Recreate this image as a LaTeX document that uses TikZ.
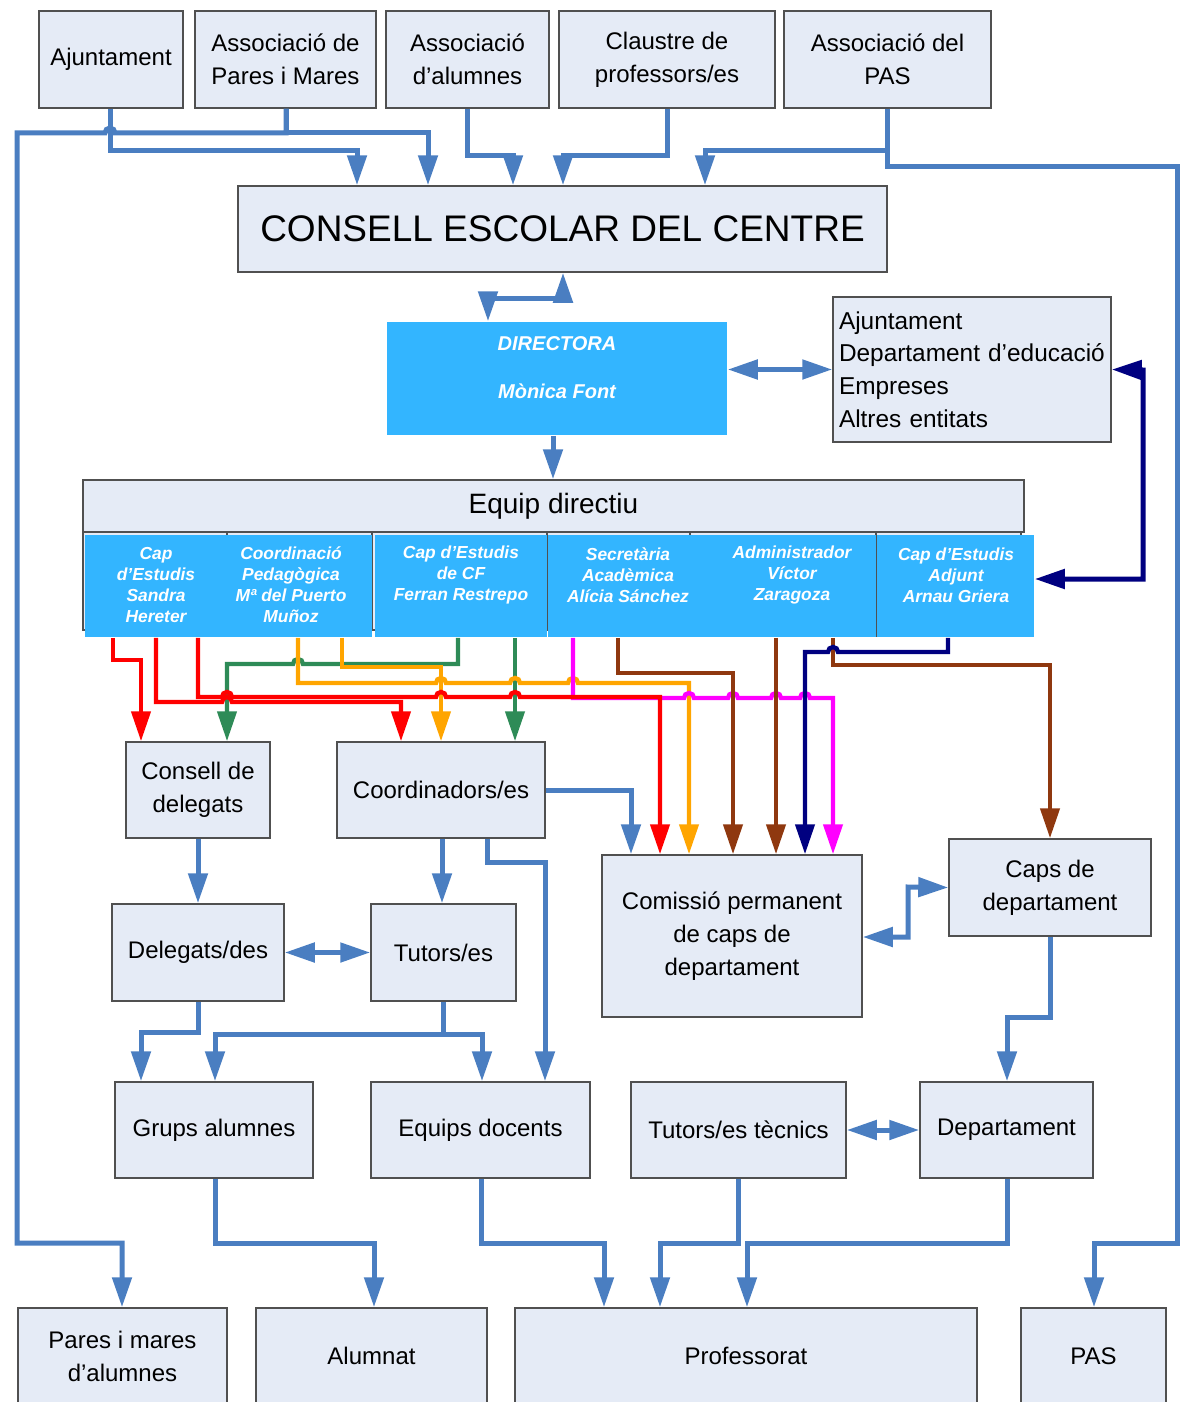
\documentclass[tikz,border=0pt]{standalone}
\usepackage{fontspec}
\setmainfont{Liberation Sans}
\usetikzlibrary{arrows.meta}
\definecolor{lblue}{RGB}{74,126,193}
\definecolor{boxfill}{RGB}{229,235,246}
\definecolor{boxline}{RGB}{80,80,80}
\definecolor{cyanb}{RGB}{51,181,255}
\definecolor{cred}{RGB}{255,0,0}
\definecolor{cgreen}{RGB}{46,139,87}
\definecolor{corange}{RGB}{255,165,0}
\definecolor{cmag}{RGB}{255,0,255}
\definecolor{cbrown}{RGB}{143,56,15}
\definecolor{cnavy}{RGB}{0,0,128}
\newcommand\Bx[7][]{\node[box,#1,minimum width={(#4-#2)*0.5pt},minimum height={(#5-#3)*0.5pt}] (#7) at ({(#2+#4)/2},{(#3+#5)/2}) {#6};}
\begin{document}
\begin{tikzpicture}[x=0.5pt,y=-0.5pt,
  >={Triangle[length=15pt,width=9.5pt]},
  box/.style={draw=boxline,fill=boxfill,line width=0.75pt,inner sep=0pt,align=center,font=\fontsize{12}{16.5}\selectfont},
  bluebox/.style={draw=none,fill=cyanb,text=white},
  btxt/.style={text=white,font=\fontsize{8.7}{10.5}\selectfont\bfseries\itshape,align=center,inner sep=0pt},
  conn/.style={draw=lblue,line width=2.5pt},
  navyc/.style={draw=cnavy,line width=2.5pt},
  cl/.style={line width=2.2pt,->}]
\useasboundingbox (0,0) rectangle (1180,1402);
\clip (0,0) rectangle (1180,1402);
% top row
\Bx{39}{11}{183}{108}{Ajuntament}{ajun}
\Bx{195}{11}{376}{108}{Associació de\\Pares i Mares}{apm}
\Bx{386}{11}{549}{108}{Associació\\d’alumnes}{aal}
\Bx{559}{11}{775}{108}{Claustre de\\professors/es}{cla}
\Bx{784}{11}{991}{108}{Associació del\\PAS}{apas}
\Bx[font=\fontsize{18.5}{22}\selectfont]{238}{186}{887}{272}{CONSELL ESCOLAR DEL CENTRE}{consell}
% directora
\Bx[bluebox]{387}{322}{727}{435}{}{dir}
\node[btxt,font=\fontsize{10}{12}\selectfont\bfseries\itshape] (tdir) at (557,368) {DIRECTORA\\[12pt]Mònica Font};
\Bx[align=left,text width={(1111-833-12)*0.5pt},font=\fontsize{12.2}{16.3}\selectfont]{833}{297}{1111}{442}{Ajuntament\\Departament d’educació\\Empreses\\Altres entitats}{ext}
% equip directiu
\Bx[font=\fontsize{14}{16}\selectfont]{83}{480}{1024}{532}{Equip directiu}{equip}
\Bx{83}{532}{1021}{630}{}{cells}
\foreach \x in {227,372,547,690,876} \draw[boxline,line width=0.75pt] (\x,532) -- (\x,630);
\Bx[bluebox]{85}{535}{372}{637}{}{b1}
\Bx[bluebox]{375}{535}{547}{637}{}{b2}
\Bx[bluebox]{548}{535}{876}{637}{}{b3}
\Bx[bluebox]{877}{535}{1034}{637}{}{b4}
\draw[boxline,line width=0.5pt] (876.5,535) -- (876.5,637);
\node[btxt] (tsandra) at (156,585) {Cap\\d’Estudis\\Sandra\\Hereter};
\node[btxt] (tcoord) at (291,585) {Coordinació\\Pedagògica\\Mª del Puerto\\Muñoz};
\node[btxt] (tferran) at (461,575) {Cap d’Estudis\\de CF\\Ferran Restrepo};
\node[btxt] (tsecre) at (628,575) {Secretària\\Acadèmica\\Alícia Sánchez};
\node[btxt] (tadmin) at (792,575) {Administrador\\Víctor\\Zaragoza};
\node[btxt] (tarnau) at (956,575) {Cap d’Estudis\\Adjunt\\Arnau Griera};
% middle boxes
\Bx{126}{742}{270}{838}{Consell de\\delegats}{cdel}
\Bx{337}{742}{545}{838}{Coordinadors/es}{coor}
\Bx{602}{855}{862}{1017}{Comissió permanent\\de caps de\\departament}{comi}
\Bx{949}{839}{1151}{936}{Caps de\\departament}{caps}
\Bx{112}{904}{284}{1001}{Delegats/des}{dele}
\Bx{371}{904}{516}{1001}{Tutors/es}{tut}
\Bx{115}{1082}{313}{1178}{Grups alumnes}{grups}
\Bx{371}{1082}{590}{1178}{Equips docents}{equips}
\Bx{631}{1082}{846}{1178}{Tutors/es tècnics}{ttec}
\Bx{920}{1082}{1093}{1178}{Departament}{dept}
% bottom row
\Bx{18}{1308}{227}{1404}{Pares i mares\\d’alumnes}{pares}
\Bx{256}{1308}{487}{1404}{Alumnat}{alum}
\Bx{515}{1308}{977}{1404}{Professorat}{prof}
\Bx{1021}{1308}{1166}{1404}{PAS}{pas}
% top connectors
\draw[conn,->] (ajun.south -| 110,0) -- (110,150) -- (357,150) -- (consell.north -| 357,0);
\draw[conn,->] (apm.south -| 286,0) -- (286,133) -- (428,133) -- (consell.north -| 428,0);
\draw[conn,->] (apm.south -| 286,0) -- (286,133) -- (115,133) arc[start angle=0,end angle=180,radius=2.5pt] -- (17,133) -- (17,1243) -- (122,1243) -- (pares.north -| 122,0);
\draw[conn,->] (aal.south -| 467,0) -- (467,155) -- (513,155) -- (consell.north -| 513,0);
\draw[conn,->] (cla.south -| 667,0) -- (667,155) -- (563,155) -- (consell.north -| 563,0);
\draw[conn,->] (apas.south -| 887,0) -- (887,150) -- (705,150) -- (consell.north -| 705,0);
\draw[conn,->] (apas.south -| 887,0) -- (887,166) -- (1177,166) -- (1177,1243) -- (1094,1243) -- (pas.north -| 1094,0);
\draw[conn,<->] (consell.south -| 563,0) -- (563,298) -- (488,298) -- (dir.north -| 488,0);
\draw[conn,<->] (dir.east |- ext.west) -- (ext.west);
\draw[conn,->] (dir.south -| 553,0) -- (equip.north -| 553,0);
\draw[navyc,<->] (ext.east) -- (1143,370) -- (1143,579) -- (b4.east |- 0,579);
% coloured connectors
\draw[cl,cgreen] (b2.south -| 458,0) -- (458,664) -- (303,664) arc[start angle=0,end angle=180,radius=2.5pt] -- (227,664) -- (cdel.north -| 227,0);
\draw[cl,cgreen] (b2.south -| 515,0) -- (coor.north -| 515,0);
\draw[cl,corange] (b1.south -| 342,0) -- (342,667) -- (441,667) -- (coor.north -| 441,0);
\draw[cl,corange] (b1.south -| 298,0) -- (298,683) -- (436,683) arc[start angle=180,end angle=0,radius=2.5pt] -- (510,683) arc[start angle=180,end angle=0,radius=2.5pt] -- (568,683) arc[start angle=180,end angle=0,radius=2.5pt] -- (689,683) -- (comi.north -| 689,0);
\draw[cl,cmag] (b3.south -| 573,0) -- (573,698) -- (684,698) arc[start angle=180,end angle=0,radius=2.5pt] -- (728,698) arc[start angle=180,end angle=0,radius=2.5pt] -- (771,698) arc[start angle=180,end angle=0,radius=2.5pt] -- (800,698) arc[start angle=180,end angle=0,radius=2.5pt] -- (833,698) -- (comi.north -| 833,0);
\draw[cl,cbrown] (b3.south -| 618,0) -- (618,673) -- (733,673) -- (comi.north -| 733,0);
\draw[cl,cbrown] (b3.south -| 776,0) -- (comi.north -| 776,0);
\draw[cl,cbrown] (b3.south -| 833,0) -- (833,665) -- (1050,665) -- (caps.north -| 1050,0);
\draw[cl,cnavy] (b4.south -| 948,0) -- (948,652) -- (838,652) arc[start angle=0,end angle=180,radius=2.5pt] -- (805,652) -- (comi.north -| 805,0);
\draw[cl,cred] (b1.south -| 113,0) -- (113,660) -- (141,660) -- (cdel.north -| 141,0);
\draw[cl,cred] (b1.south -| 156,0) -- (156,702) -- (222,702) arc[start angle=180,end angle=0,radius=2.5pt] -- (401,702) -- (coor.north -| 401,0);
\draw[cl,cred] (b1.south -| 198,0) -- (198,697) -- (222,697) arc[start angle=180,end angle=0,radius=2.5pt] -- (436,697) arc[start angle=180,end angle=0,radius=2.5pt] -- (510,697) arc[start angle=180,end angle=0,radius=2.5pt] -- (660,697) -- (comi.north -| 660,0);
% lower connectors
\draw[conn,->] (coor.east) -- (631,790) -- (comi.north -| 631,0);
\draw[conn,->] (cdel.south -| 198,0) -- (dele.north -| 198,0);
\draw[conn,->] (coor.south -| 442,0) -- (tut.north -| 442,0);
\draw[conn,->] (coor.south -| 487,0) -- (487,862) -- (545,862) -- (equips.north -| 545,0);
\draw[conn,<->] (dele.east) -- (tut.west);
\draw[conn,->] (dele.south -| 198,0) -- (198,1032) -- (141,1032) -- (grups.north -| 141,0);
\draw[conn,->] (tut.south -| 443,0) -- (443,1034) -- (215,1034) -- (grups.north -| 215,0);
\draw[conn,->] (tut.south -| 443,0) -- (443,1034) -- (482,1034) -- (equips.north -| 482,0);
\draw[conn,<->] (comi.east |- 0,937) -- (908,937) -- (908,887) -- (caps.west);
\draw[conn,->] (caps.south -| 1050,0) -- (1050,1017) -- (1007,1017) -- (dept.north -| 1007,0);
\draw[conn,<->] (ttec.east) -- (dept.west);
\draw[conn,->] (grups.south -| 215,0) -- (215,1243) -- (374,1243) -- (alum.north -| 374,0);
\draw[conn,->] (equips.south -| 481,0) -- (481,1243) -- (604,1243) -- (prof.north -| 604,0);
\draw[conn,->] (ttec.south -| 738,0) -- (738,1243) -- (660,1243) -- (prof.north -| 660,0);
\draw[conn,->] (dept.south -| 1007,0) -- (1007,1243) -- (747,1243) -- (prof.north -| 747,0);
\end{tikzpicture}
\end{document}
